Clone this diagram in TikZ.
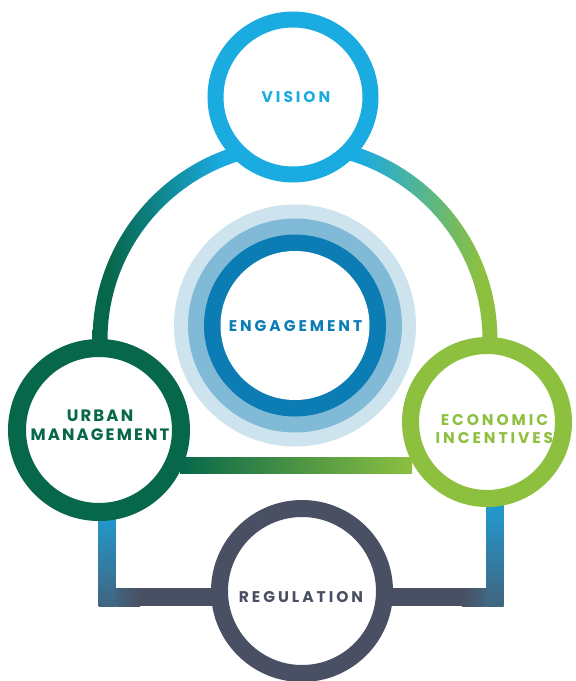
\documentclass[tikz,border=0pt]{standalone}
\usepackage{fontspec}
\newfontfamily\lbl{Poppins}[LetterSpace=19]
\newfontfamily\lblu{Poppins}[LetterSpace=13]
\definecolor{cvision}{HTML}{1AABE1}
\definecolor{curban}{HTML}{07674A}
\definecolor{cecon}{HTML}{8DC03F}
\definecolor{creg}{HTML}{4A5063}
\definecolor{cengd}{HTML}{0B7DB4}
\definecolor{cengm}{HTML}{80BAD7}
\definecolor{cengl}{HTML}{CDE4EF}
\definecolor{cbrk}{HTML}{1E9FD8}
\definecolor{cbrkm}{HTML}{41657F}
\pgfdeclarehorizontalshading{arcsh}{100bp}{color(0bp)=(curban); color(27bp)=(curban); color(41bp)=(cvision); color(58bp)=(cvision); color(73bp)=(cecon); color(100bp)=(cecon)}
\tikzset{
  ring/.style={circle, draw=#1, fill=white, inner sep=0pt, outer sep=0pt},
  lbltext/.style={font=\lbl\bfseries\fontsize{15.5}{18}\selectfont, text=#1, align=center, inner sep=0pt}
}
\begin{document}
\begin{tikzpicture}[x=1pt,y=-1pt]
\fill[white] (0,0) rectangle (576,681);
\useasboundingbox (0,0) rectangle (576,681);
% big arc
\shade[shading=arcsh] (92.5,365) -- (92.5,340) arc[start angle=180,end angle=360,radius=202.5]
  -- (497.5,365) -- (482.5,365) -- (482.5,340) arc[start angle=360,end angle=180,radius=187.5]
  -- (107.5,365) -- cycle;
% horizontal bar
\shade[left color=curban, right color=cecon] (180,457) rectangle (412,473);
% bottom bracket
\shade[top color=cbrk, bottom color=cbrkm] (98.5,505) rectangle (115.5,606);
\shade[left color=cbrkm, right color=creg] (115.5,588.3) rectangle (140,606);
\fill[creg] (139.5,588.3) rectangle (462.5,606);
\shade[top color=cbrk, bottom color=cbrkm] (486.5,495) rectangle (503.5,606);
\shade[left color=creg, right color=cbrkm] (462,588.3) rectangle (486.5,606);
% engagement
\node (eng) at (295,325.5) {};
\fill[cengl] (eng.center) circle[radius=121];
\fill[cengm] (eng.center) circle[radius=107];
\fill[cengd] (eng.center) circle[radius=91];
\fill[white] (eng.center) circle[radius=74.5];
% circles
\node[ring=cvision, line width=16pt, minimum size=155pt] (vision) at (293,97) {};
\node[ring=curban, line width=18pt, minimum size=164pt] (urban) at (99,430) {};
\node[ring=cecon, line width=17pt, minimum size=153pt] (econ) at (487,422) {};
\node[ring=creg, line width=17pt, minimum size=165pt] (reg) at (302,591) {};
% labels
\node[lbltext=cvision] (tvision) at (296,97) {VISION};
\node[lbltext=cengd] (teng) at (295.5,326) {ENGAGEMENT};
\node[lbltext=curban, font=\lblu\bfseries\fontsize{16.5}{19}\selectfont] (turban) at (100,425) {URBAN\\MANAGEMENT};
\node[lbltext=cecon] (tecon) at (494.5,429) {ECONOMIC\\INCENTIVES};
\node[lbltext=creg] (treg) at (301,597) {REGULATION};
\end{tikzpicture}
\end{document}
